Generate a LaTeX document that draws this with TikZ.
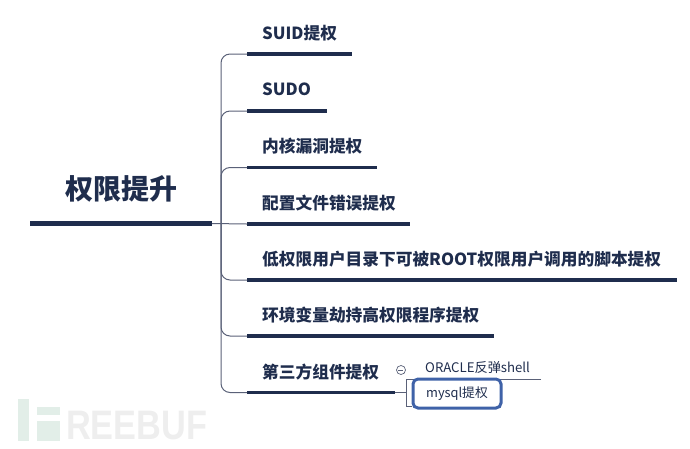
\documentclass[tikz,border=0pt]{standalone}
\usepackage{fontspec}
\setmainfont{Noto Sans CJK SC}
\newfontfamily\wmfont{Liberation Sans}
\definecolor{navy}{HTML}{1F2D4D}
\definecolor{thinline}{HTML}{5A6178}
\definecolor{boxblue}{HTML}{3F62A8}
\definecolor{wmgreen}{HTML}{E2EEE8}
\definecolor{wmgrey}{HTML}{EEEEEE}
\tikzset{
  x=1pt,y=-1pt,
  bar/.style={draw=navy,line width=3.4pt},
  thin/.style={draw=thinline,line width=1pt,rounded corners=9pt},
  plain/.style={draw=thinline,line width=1pt},
  branchlabel/.style={anchor=base west,inner sep=0pt,text=navy,font=\fontsize{16.7}{17}\selectfont\bfseries},
  sublabel/.style={anchor=base west,inner sep=0pt,text=navy,font=\fontsize{13.2}{14}\selectfont},
}
\begin{document}
\begin{tikzpicture}
\useasboundingbox (0,0) rectangle (690,448);
% watermark
\fill[wmgreen] (18,399) rectangle (29,441);
\fill[wmgreen] (37,407) rectangle (60,415);
\fill[wmgreen] (37,421) rectangle (60,441);
\node[anchor=base west,inner sep=0pt,text=wmgrey,xscale=1.04,yscale=1.25,font=\wmfont\fontsize{33}{33}\selectfont\bfseries] (wm) at (66,439) {REEBUF};
% root
\node[anchor=base,inner sep=0pt,text=navy,font=\fontsize{28}{28}\selectfont\bfseries] (root) at (121,199) {权限提升};
\coordinate (rootL) at (30,223.5);
\coordinate (rootR) at (212,223.5);
\draw[bar,line width=4.5pt] (rootL) -- (rootR);
% branch bars
\foreach \n/\y/\e in {a/54/352,b/111/327,c/167.5/377,d/224/410,e/280/677,f/336/494,g/392.5/395}{
  \coordinate (\n S) at (247,\y);
  \coordinate (\n E) at (\e,\y);
  \draw[bar] (\n S) -- (\n E);
}
\coordinate (trunk) at (221,224);
\draw[thin] (aS) -| (trunk) |- (gS);
\draw[thin] (bS) -| (trunk);
\draw[thin] (cS) -| (trunk);
\draw[plain] (rootR) -- (dS);
\draw[thin] (eS) -| (trunk);
\draw[thin] (fS) -| (trunk);
% labels
\node[branchlabel] (la) at (262,39) {SUID提权};
\node[branchlabel] (lb) at (262,95.5) {SUDO};
\node[branchlabel] (lc) at (262,152.5) {内核漏洞提权};
\node[branchlabel] (ld) at (262,209) {配置文件错误提权};
\node[branchlabel] (le) at (262,265) {低权限用户目录下可被ROOT权限用户调用的脚本提权};
\node[branchlabel] (lf) at (262,321) {环境变量劫持高权限程序提权};
\node[branchlabel] (lg) at (262,378) {第三方组件提权};
% sub-branch
\node[draw=thinline,circle,line width=.7pt,minimum size=9pt,inner sep=0pt] (toggle) at (401,370) {};
\draw[draw=thinline,line width=.7pt] (toggle.west)++(2,0) -- ++(5,0);
\coordinate (fork) at (406,392.5);
\coordinate (forkT) at (406,379);
\coordinate (forkB) at (406,406);
\coordinate (oraE) at (541,379);
\draw[plain] (gE) -- (fork);
\draw[plain] (oraE) -- (forkT) -- (forkB);
\node[sublabel] (ora) at (425,372) {ORACLE反弹shell};
\node[draw=boxblue,line width=3pt,rounded corners=5pt,minimum width=88pt,minimum height=29pt,inner sep=0pt,anchor=center,text=navy,font=\fontsize{12.8}{14}\selectfont] (my) at (457,393.5) {mysql提权};
\draw[plain] (forkB) -- (my.south west |- forkB);
\end{tikzpicture}
\end{document}
